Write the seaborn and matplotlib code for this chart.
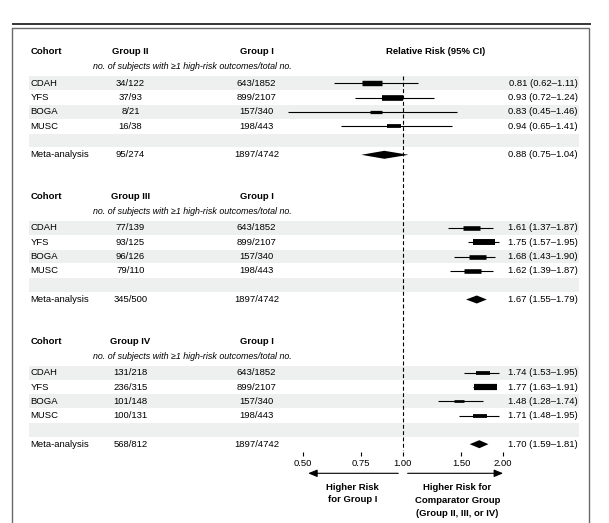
import numpy as np
import matplotlib
matplotlib.use("Agg")
import matplotlib.pyplot as plt
import seaborn as sns

# ---------------- data ----------------
cohorts = ["CDAH", "YFS", "BOGA", "MUSC"]
comparators = ["Group II", "Group III", "Group IV"]
comp_counts = [
    ["34/122", "37/93", "8/21", "16/38"],
    ["77/139", "93/125", "96/126", "79/110"],
    ["131/218", "236/315", "101/148", "100/131"],
]
group1_counts = ["643/1852", "899/2107", "157/340", "198/443"]
meta_comp_counts = ["95/274", "345/500", "568/812"]
meta_group1_count = "1897/4742"
rr = [[0.81, 0.93, 0.83, 0.94], [1.61, 1.75, 1.68, 1.62], [1.74, 1.77, 1.48, 1.71]]
rr_lo = [[0.62, 0.72, 0.45, 0.65], [1.37, 1.57, 1.43, 1.39], [1.53, 1.63, 1.28, 1.48]]
rr_hi = [[1.11, 1.24, 1.46, 1.41], [1.87, 1.95, 1.90, 1.87], [1.95, 1.91, 1.74, 1.95]]
study_weights = [[20, 21, 12, 14], [17, 22, 17, 17], [14, 23, 10, 14]]
meta_rr = [0.88, 1.67, 1.70]
meta_lo = [0.75, 1.55, 1.59]
meta_hi = [1.04, 1.79, 1.81]
tick_values = [0.50, 0.75, 1.00, 1.50, 2.00]
tick_labels = ["0.50", "0.75", "1.00", "1.50", "2.00"]

# ---------------- style ----------------
sns.set_theme(style="white")
plt.rcParams["font.family"] = ["Liberation Sans", "DejaVu Sans"]
plt.rcParams["text.color"] = "black"
plt.rcParams["xtick.color"] = "black"
plt.rcParams["xtick.labelcolor"] = "black"
FS = 6.8
W, H = 609, 523
fig = plt.figure(figsize=(W / 100, H / 100), dpi=100)

# background axes in pixel coordinates (layout, text, bands)
bg = fig.add_axes([0, 0, 1, 1])
bg.set_xlim(0, W)
bg.set_ylim(H, 0)
bg.axis("off")

# forest axes: log scale, 100 px per doubling, 1.0 at x=402.8 px
ax_left_px, ax_right_px = 202.8, 602.8
ax_top_px, ax_bot_px = 28.0, 452.3
fax = fig.add_axes([ax_left_px / W, 1 - ax_bot_px / H,
                    (ax_right_px - ax_left_px) / W, (ax_bot_px - ax_top_px) / H])
fax.set_xscale("log")
fax.set_xlim(0.25, 4.0)
fax.set_ylim(ax_bot_px, ax_top_px)
fax.patch.set_alpha(0)
for s in fax.spines.values():
    s.set_visible(False)
fax.set_yticks([])
fax.set_xticks(tick_values)
fax.set_xticklabels(tick_labels)
fax.xaxis.set_minor_locator(matplotlib.ticker.NullLocator())
fax.tick_params(axis="x", direction="out", length=3.2, width=0.8, color="black",
                labelcolor="black", pad=1.6, labelsize=FS, bottom=True)

# frame
bg.plot([12.3, 590.7], [24.3, 24.3], color="black", lw=1.1, solid_capstyle="butt")
bg.plot([12.3, 589.3, 589.3], [28.3, 28.3, H + 2], color="#6a6a6a", lw=1.0)
bg.plot([12.3, 12.3], [28.3, H + 2], color="#6a6a6a", lw=1.0)

row_h = 14.3
panel_gap = 144.7
first_row = 83.3
band_color = "#eef0ef"
x_name, x_comp, x_g1, x_val = 30.7, 130.5, 256.5, 578.0

for p in range(3):
    y0 = first_row + p * panel_gap
    # headers
    hy = y0 - 31.5
    bg.text(x_name, hy, "Cohort", fontsize=FS, fontweight="bold", va="center", ha="left")
    bg.text(x_comp, hy, comparators[p], fontsize=FS, fontweight="bold", va="center", ha="center")
    bg.text(x_g1, hy, "Group I", fontsize=FS, fontweight="bold", va="center", ha="center")
    if p == 0:
        bg.text(436.0, hy, "Relative Risk (95% CI)", fontsize=FS, fontweight="bold",
                va="center", ha="center")
    bg.text(192.3, y0 - 16.5, "no. of subjects with \u22651 high-risk outcomes/total no.",
            fontsize=6.4, style="italic", va="center", ha="center")
    # shaded bands: rows 0, 2, 4
    for r in (0, 2, 4):
        yc = y0 + r * row_h
        bg.fill_between([29.0, 579.0], yc - row_h / 2 + 0.3, yc + row_h / 2 - 0.3,
                        color=band_color, lw=0, zorder=0)
    # study rows
    for i, c in enumerate(cohorts):
        yc = y0 + i * row_h
        bg.text(x_name, yc, c, fontsize=FS, va="center", ha="left")
        bg.text(x_comp, yc, comp_counts[p][i], fontsize=FS, va="center", ha="center")
        bg.text(x_g1, yc, group1_counts[i], fontsize=FS, va="center", ha="center")
        bg.text(x_val, yc, f"{rr[p][i]:.2f} ({rr_lo[p][i]:.2f}\u2013{rr_hi[p][i]:.2f})",
                fontsize=FS, va="center", ha="right")
        fax.hlines(yc, rr_lo[p][i], rr_hi[p][i], color="black", lw=0.8, zorder=3)
        w = study_weights[p][i]
        half = 2 ** (w / 200.0)
        box_h_px = float(np.clip(0.27 * w, 2.0, 7.0))
        fax.hlines(yc, rr[p][i] / half, rr[p][i] * half, color="black",
                   lw=box_h_px * 0.72, zorder=4, capstyle="butt")
    # meta row
    ym = y0 + 5 * row_h
    bg.text(x_name, ym, "Meta-analysis", fontsize=FS, va="center", ha="left")
    bg.text(x_comp, ym, meta_comp_counts[p], fontsize=FS, va="center", ha="center")
    bg.text(x_g1, ym, meta_group1_count, fontsize=FS, va="center", ha="center")
    bg.text(x_val, ym, f"{meta_rr[p]:.2f} ({meta_lo[p]:.2f}\u2013{meta_hi[p]:.2f})",
            fontsize=FS, va="center", ha="right")
    dh = 4.0
    fax.fill([meta_lo[p], meta_rr[p], meta_hi[p], meta_rr[p]],
             [ym, ym - dh, ym, ym + dh], color="black", lw=0, zorder=4)

# null line
fax.vlines(1.0, 76.0, 450.0, color="black", lw=0.8, linestyles=(0, (3.5, 2.2)), zorder=5)

# direction arrows
arrow_y = 473.3
for tip, tail in ((0.519, 0.969), (2.004, 1.034)):
    fax.annotate("", xy=(tip, arrow_y), xytext=(tail, arrow_y), annotation_clip=False,
                 arrowprops=dict(arrowstyle="-|>,head_length=0.6,head_width=0.25",
                                 color="black", lw=0.8, mutation_scale=9,
                                 shrinkA=0, shrinkB=0))
bg.text(352.7, 493.5, "Higher Risk\nfor Group I", fontsize=FS, fontweight="bold",
        ha="center", va="center", linespacing=1.5)
bg.text(457.3, 500.5, "Higher Risk for\nComparator Group\n(Group II, III, or IV)",
        fontsize=FS, fontweight="bold", ha="center", va="center", linespacing=1.5)

fig.savefig("out.png", dpi=100)
